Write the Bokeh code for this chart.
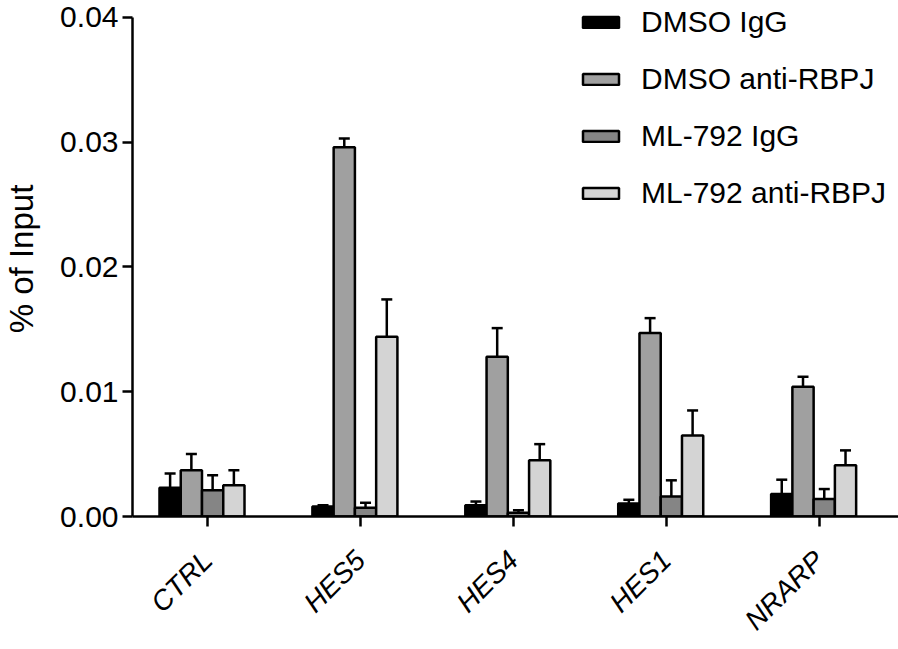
import math
from bokeh.plotting import figure
from bokeh.models import (ColumnDataSource, Range1d, FixedTicker, Whisker, TeeHead,
                          Legend, LegendItem, PrintfTickFormatter)
from bokeh.embed import file_html
from bokeh.resources import INLINE

# ---- data ----
categories = ["CTRL", "HES5", "HES4", "HES1", "NRARP"]
series_names = ["DMSO IgG", "DMSO anti-RBPJ", "ML-792 IgG", "ML-792 anti-RBPJ"]

dmso_igg = [0.0023, 0.0008, 0.0009, 0.00104, 0.0018]
dmso_igg_err = [0.00114, 0.0001, 0.0003, 0.0003, 0.00115]
dmso_rbpj = [0.0037, 0.0296, 0.0128, 0.0147, 0.0104]
dmso_rbpj_err = [0.0013, 0.0007, 0.0023, 0.0012, 0.0008]
ml_igg = [0.0021, 0.0007, 0.0003, 0.0016, 0.0014]
ml_igg_err = [0.0012, 0.0004, 0.0002, 0.0013, 0.0008]
ml_rbpj = [0.0025, 0.0144, 0.0045, 0.0065, 0.0041]
ml_rbpj_err = [0.0012, 0.0030, 0.0013, 0.0020, 0.0012]

y_ticks = [0.0, 0.01, 0.02, 0.03, 0.04]
y_axis_bounds = (0.0, 0.04)
y_label = "% of Input"

# ---- styling ----
colors = ["#000000", "#a0a0a0", "#858585", "#d4d4d4"]
FONT = "Liberation Sans"
BAR_W = 0.139
GROUP_SHIFT = -0.036
LW = 2.5

values = [dmso_igg, dmso_rbpj, ml_igg, ml_rbpj]
errors = [dmso_igg_err, dmso_rbpj_err, ml_igg_err, ml_rbpj_err]

# y range leaves a little headroom above the 0.04 axis end so the legend fits
p = figure(width=898, height=649, output_backend="svg", toolbar_location=None,
           x_range=Range1d(-0.4905, 4.519), y_range=Range1d(0, 0.04128),
           min_border_left=132, min_border_right=0, min_border_top=1,
           min_border_bottom=132)
p.outline_line_color = None
p.xgrid.grid_line_color = None
p.ygrid.grid_line_color = None
p.background_fill_color = "white"

renderers = []
for k in range(4):
    off = GROUP_SHIFT + (k - 1.5) * BAR_W
    xs = [i + off for i in range(len(categories))]
    src = ColumnDataSource(dict(
        x=xs, top=values[k],
        lower=values[k],
        upper=[v + e for v, e in zip(values[k], errors[k])],
    ))
    r = p.vbar(x="x", top="top", width=BAR_W, bottom=0, source=src,
               fill_color=colors[k], line_color="black", line_width=LW)
    renderers.append(r)
    w = Whisker(source=src, base="x", upper="upper", lower="lower",
                dimension="height", line_color="black", line_width=LW,
                upper_head=TeeHead(size=11, line_width=LW, line_color="black"),
                lower_head=None)
    p.add_layout(w)

# ---- axes ----
yax = p.yaxis[0]
yax.bounds = y_axis_bounds
yax.ticker = FixedTicker(ticks=y_ticks)
yax.formatter = PrintfTickFormatter(format="%.2f")
yax.minor_tick_line_color = None
yax.major_tick_in = 0
yax.major_tick_out = 10
yax.major_tick_line_width = LW
yax.axis_line_width = LW
yax.axis_line_color = "black"
yax.major_label_text_font = FONT
yax.major_label_text_font_size = "30px"
yax.major_label_text_color = "black"
yax.major_label_standoff = 4
yax.axis_label = y_label
yax.axis_label_text_font = FONT
yax.axis_label_text_font_size = "33px"
yax.axis_label_text_font_style = "normal"
yax.axis_label_text_color = "black"
yax.axis_label_standoff = 17

xax = p.xaxis[0]
xax.ticker = FixedTicker(ticks=list(range(len(categories))))
xax.major_label_overrides = {i: c for i, c in enumerate(categories)}
xax.minor_tick_line_color = None
xax.major_tick_in = 0
xax.major_tick_out = 10
xax.major_tick_line_width = LW
xax.axis_line_width = LW
xax.axis_line_color = "black"
xax.major_label_orientation = math.pi / 4
xax.major_label_text_font = FONT
xax.major_label_text_font_size = "28px"
xax.major_label_text_font_style = "italic"
xax.major_label_text_color = "black"
xax.major_label_standoff = 29

# ---- legend ----
legend = Legend(items=[LegendItem(label=n, renderers=[r]) for n, r in zip(series_names, renderers)],
                location=(446, 306), glyph_width=45, glyph_height=14,
                label_text_font=FONT, label_text_font_size="30px",
                label_text_color="black",
                label_standoff=18, spacing=23, padding=0, margin=0,
                border_line_color=None, background_fill_alpha=0)
p.add_layout(legend)

open("out.html", "w").write(file_html(p, INLINE))
